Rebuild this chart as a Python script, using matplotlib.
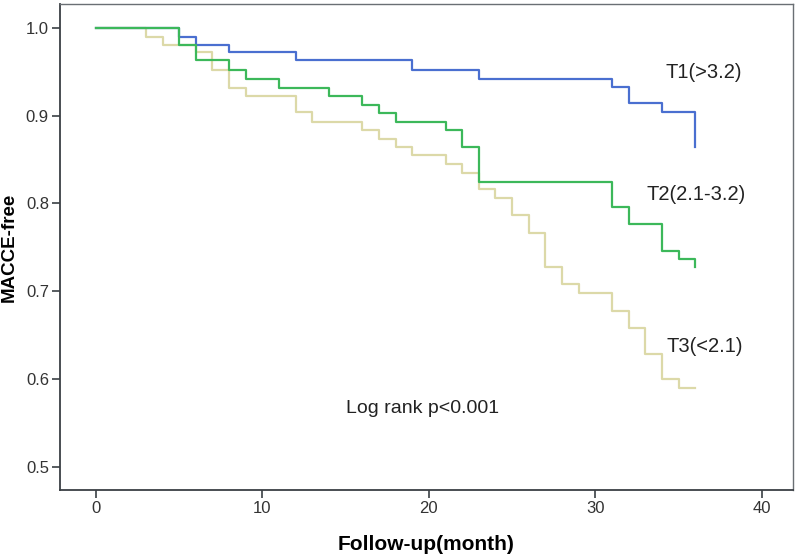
import numpy as np
import matplotlib
matplotlib.use("Agg")
import matplotlib.pyplot as plt

plt.rcParams['font.family'] = ['Liberation Sans', 'DejaVu Sans']

# Kaplan-Meier kroki (miesiace, przezycie bez MACCE)
t1_time = [0, 5, 6, 8, 12, 19, 23, 31, 32, 34, 36]
t1_surv = [1.0, 0.99, 0.98, 0.972, 0.963, 0.952, 0.942, 0.933, 0.914, 0.904, 0.864]

t2_time = [0, 5, 6, 8, 9, 11, 14, 16, 17, 18, 21, 22, 23, 31, 32, 34, 35, 36]
t2_surv = [1.0, 0.981, 0.963, 0.952, 0.942, 0.932, 0.922, 0.912, 0.903, 0.893,
           0.884, 0.864, 0.824, 0.796, 0.777, 0.746, 0.737, 0.728]

t3_time = [0, 3, 4, 6, 7, 8, 9, 12, 13, 16, 17, 18, 19, 21, 22, 23, 24, 25, 26,
           27, 28, 29, 31, 32, 33, 34, 35, 36]
t3_surv = [1.0, 0.99, 0.981, 0.972, 0.952, 0.932, 0.922, 0.904, 0.893, 0.884,
           0.874, 0.864, 0.855, 0.845, 0.835, 0.816, 0.806, 0.787, 0.766, 0.728,
           0.708, 0.698, 0.678, 0.658, 0.629, 0.600, 0.590, 0.590]

x_ticks = [0, 10, 20, 30, 40]
y_ticks = [0.5, 0.6, 0.7, 0.8, 0.9, 1.0]

fig = plt.figure(figsize=(8, 5.58), dpi=100)
ax = fig.add_axes([0.075, 0.122, 0.916, 0.871])

ax.step(t3_time, t3_surv, where='post', color='#dcd9a8', lw=1.6)
ax.step(t1_time, t1_surv, where='post', color='#4a6fd0', lw=1.6)
ax.step(t2_time, t2_surv, where='post', color='#3cb85a', lw=1.6)

ax.set_xlim(-2.16, 41.86)
ax.set_ylim(0.4738, 1.0273)
ax.set_xticks(x_ticks)
ax.set_yticks(y_ticks)
ax.set_yticklabels([f"{v:.1f}" for v in y_ticks])

for s in ['left', 'bottom']:
    ax.spines[s].set_color('#3a3f44')
    ax.spines[s].set_linewidth(1.3)
for s in ['top', 'right']:
    ax.spines[s].set_color('#6a6f74')
    ax.spines[s].set_linewidth(1.0)
ax.tick_params(axis='both', direction='out', length=6, width=1.2,
               color='#3a3f44', labelsize=12, labelcolor='#333333', pad=2)

ax.set_xlabel('Follow-up(month)', fontsize=15, fontweight='bold', labelpad=14)
ax.set_ylabel('MACCE-free', fontsize=13.5, fontweight='bold', labelpad=6)

ax.text(34.2, 0.949, 'T1(>3.2)', fontsize=14.5, color='#222222', va='center')
ax.text(33.1, 0.810, 'T2(2.1-3.2)', fontsize=14.5, color='#222222', va='center')
ax.text(34.3, 0.637, 'T3(<2.1)', fontsize=14.5, color='#222222', va='center')
ax.text(15.0, 0.566, 'Log rank p<0.001', fontsize=14, color='#222222', va='center')

fig.savefig('out.png', dpi=100)
